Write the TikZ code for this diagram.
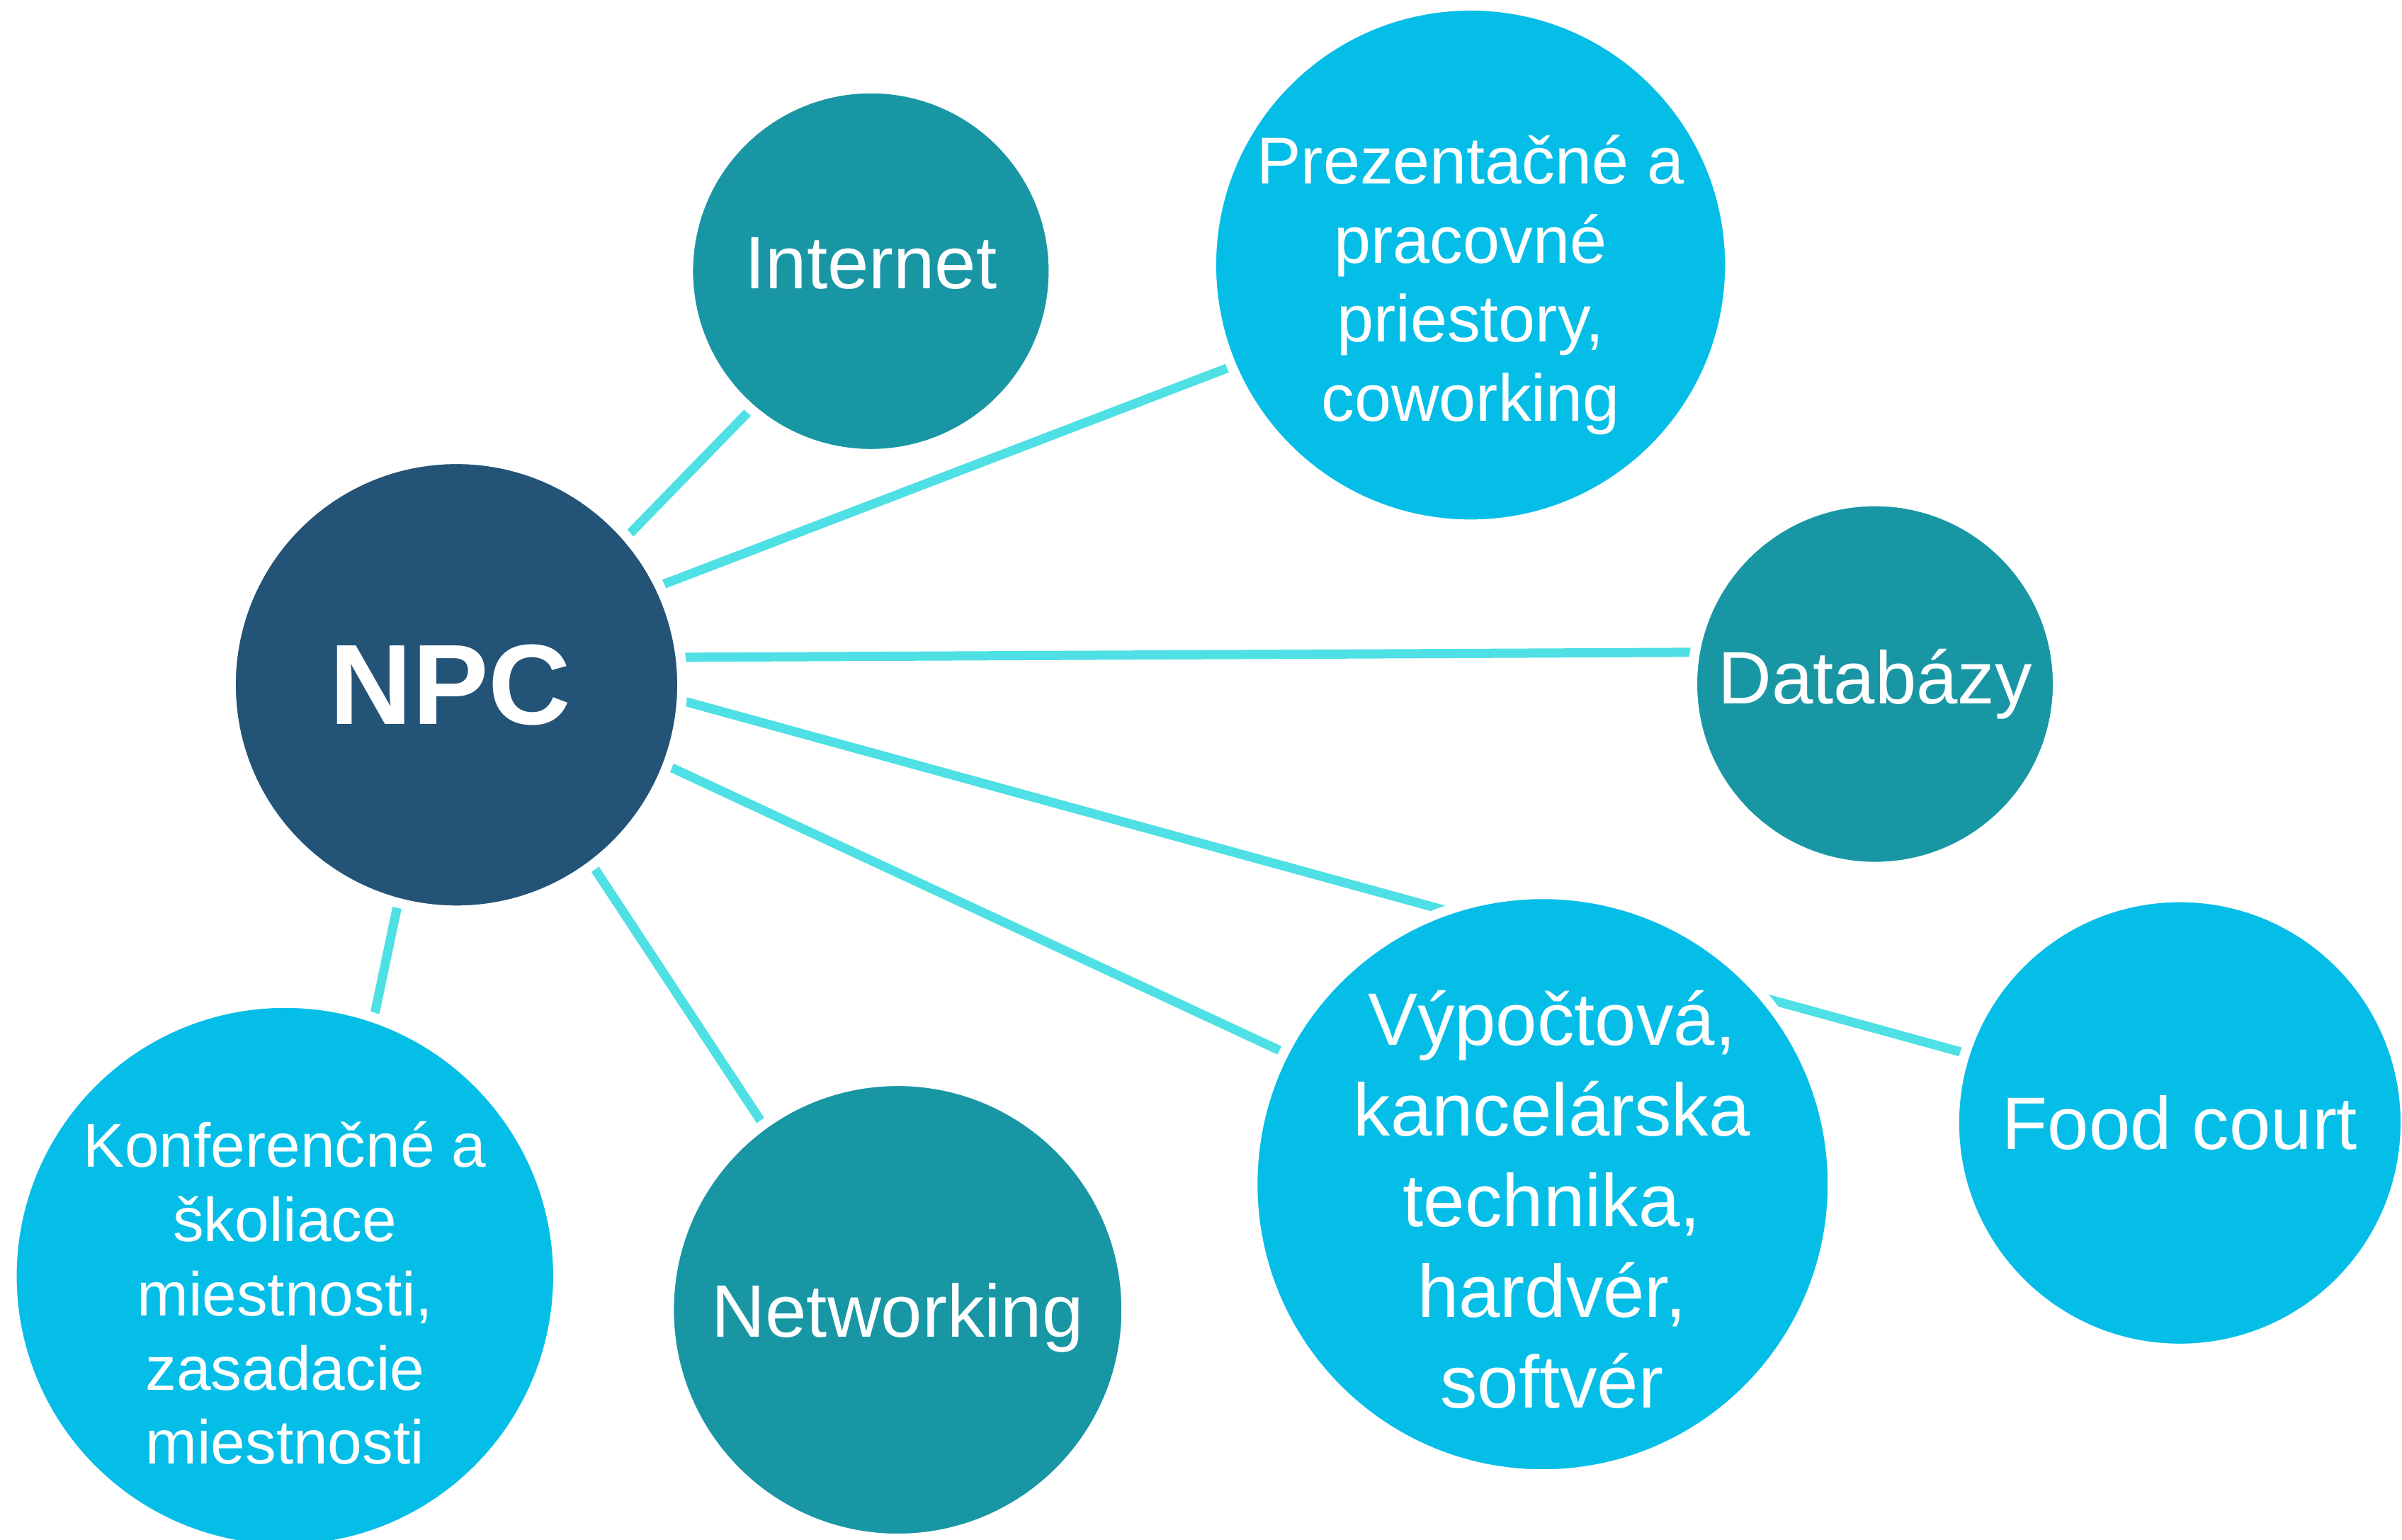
\documentclass[tikz,border=0pt]{standalone}
\usepackage{fontspec}
\setmainfont{Liberation Sans}
\usetikzlibrary{backgrounds}
\definecolor{npcblue}{RGB}{35,83,119}
\definecolor{tealblue}{RGB}{24,150,164}
\definecolor{skyblue}{RGB}{5,190,232}
\definecolor{linkcyan}{RGB}{78,224,228}

\begin{document}
\begin{tikzpicture}[x=0.01cm,y=-0.01cm,
    bubble/.style={draw=white,line width=0.065cm,circle,inner sep=0pt,outer sep=0pt},
    txt/.style={text=white,align=center,font=\fontsize{13.8}{16.6}\selectfont},
    link/.style={draw=linkcyan,line width=0.06cm}]
  \useasboundingbox (0,0) rectangle (1568,1005);
  % circles
  \node[bubble,fill=npcblue,minimum size=2.945cm,label={[txt,xshift=-0.04cm,font=\fontsize{21.2}{24}\selectfont\bfseries]center:NPC}] (npc) at (298,447) {};
  \node[bubble,fill=tealblue,minimum size=2.385cm,label={[txt,yshift=0.05cm]center:Internet}] (internet) at (568.5,177) {};
  \node[bubble,fill=skyblue,minimum size=3.385cm,label={[txt,yshift=-0.13cm,font=\fontsize{12.3}{14.7}\selectfont]center:{Prezentačné a\\pracovné\\priestory,\\coworking}}] (prez) at (960,173) {};
  \node[bubble,fill=tealblue,minimum size=2.385cm,label={[txt]center:Databázy}] (db) at (1224,446.5) {};
  \node[bubble,fill=skyblue,minimum size=3.785cm,label={[txt,xshift=0.06cm,yshift=-0.1cm,font=\fontsize{13.8}{16.8}\selectfont]center:{Výpočtová,\\kancelárska\\technika,\\hardvér,\\softvér}}] (vyp) at (1007,773) {};
  \node[bubble,fill=skyblue,minimum size=2.945cm,label={[txt]center:Food court}] (food) at (1423,733) {};
  \node[bubble,fill=tealblue,minimum size=2.985cm,label={[txt,yshift=-0.05cm]center:Networking}] (net) at (586,855) {};
  \node[bubble,fill=skyblue,minimum size=3.565cm,label={[txt,yshift=-0.11cm,font=\fontsize{11.5}{13.8}\selectfont]center:{Konferenčné a\\školiace\\miestnosti,\\zasadacie\\miestnosti}}] (konf) at (186,833) {};
  % connectors under the circles
  \begin{scope}[on background layer]
    \draw[link] (npc.41.4) -- (internet.229.6);
    \draw[link] (npc.26.9) -- (prez.203.7);
    \draw[link] (npc.7.8) -- (db.170.6);
    \draw[link] (npc.356.1) -- (food.162.7);
    \draw[link] (npc.339.5) -- (vyp.153.3);
    \draw[link] (npc.307.6) -- (net.126.3);
    \draw[link] (npc.255.1) -- (konf.71.3);
  \end{scope}
\end{tikzpicture}
\end{document}
